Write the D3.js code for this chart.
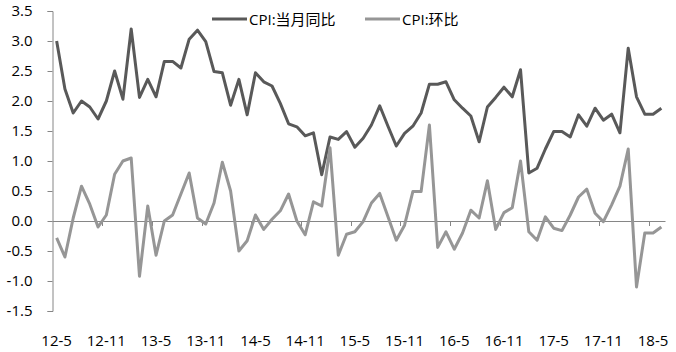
<!DOCTYPE html>
<html>
<head>
<meta charset="utf-8">
<script src="https://cdn.jsdelivr.net/npm/d3@7/dist/d3.min.js"></script>
<style>
  body { margin: 0; background: #fff; }
  text { font-family: "Open Sans", "Noto Sans CJK SC", sans-serif; fill: #000; }
</style>
</head>
<body>
<div id="chart"></div>
<script>
// months 2012-05 .. 2018-06
var months = [];
for (var y = 12; y <= 18; y++) {
    for (var m = 1; m <= 12; m++) {
        if ((y == 12 && m < 5) || (y == 18 && m > 6)) continue;
        months.push(y + "-" + m);
    }
}

var yoy = [3.0, 2.2, 1.8, 2.0, 1.9, 1.7, 2.0, 2.5,
    2.03, 3.2, 2.06, 2.36, 2.07, 2.66, 2.66, 2.55, 3.03, 3.18, 2.99, 2.49,
    2.47, 1.93, 2.36, 1.77, 2.47, 2.32, 2.25, 1.96, 1.62, 1.57, 1.42, 1.47,
    0.77, 1.4, 1.36, 1.49, 1.23, 1.38, 1.6, 1.92, 1.58, 1.25, 1.46, 1.58,
    1.8, 2.28, 2.28, 2.32, 2.02, 1.88, 1.75, 1.32, 1.9, 2.06, 2.23, 2.07,
    2.52, 0.8, 0.88, 1.2, 1.49, 1.49, 1.4, 1.77, 1.58, 1.88, 1.68, 1.78,
    1.47, 2.88, 2.07, 1.78, 1.78, 1.88];

var mom = [-0.28, -0.6, 0.05, 0.58, 0.28, -0.1, 0.1, 0.78,
    1.0, 1.05, -0.92, 0.25, -0.57, 0.0, 0.1, 0.45, 0.8, 0.05, -0.05, 0.3,
    0.98, 0.5, -0.5, -0.33, 0.1, -0.14, 0.03, 0.17, 0.45, 0.0, -0.23, 0.32,
    0.25, 1.22, -0.57, -0.22, -0.18, -0.01, 0.3, 0.46, 0.07, -0.32, -0.07, 0.49,
    0.49, 1.6, -0.44, -0.18, -0.47, -0.2, 0.18, 0.05, 0.67, -0.14, 0.14, 0.22,
    1.0, -0.18, -0.32, 0.07, -0.12, -0.16, 0.1, 0.4, 0.53, 0.13, -0.01, 0.27,
    0.58, 1.2, -1.1, -0.2, -0.2, -0.1];

var yTicks = [3.5, 3.0, 2.5, 2.0, 1.5, 1.0, 0.5, 0.0, -0.5, -1.0, -1.5];
var seriesNames = ["CPI:当月同比", "CPI:环比"];
var colors = ["#595959", "#969696"];

var w = 676;
var h = 352;

var svg = d3.select("#chart")
    .append("svg")
    .attr("width", w)
    .attr("height", h);

var xScale = d3.scaleBand()
    .domain(months)
    .range([52.5, 665.5]);

var yScale = d3.scaleLinear()
    .domain([-1.5, 3.5])
    .range([311, 11]);

function cx(d) { return xScale(d) + xScale.bandwidth() / 2; }

// y axis
var yAxis = d3.axisLeft(yScale)
    .tickValues(yTicks)
    .tickSize(5)
    .tickFormat(d3.format(".1f"));

var gy = svg.append("g")
    .attr("transform", "translate(52.5,0)")
    .call(yAxis);
gy.select(".domain").attr("stroke", "#868686").attr("d", "M-5,311.5H0.5V11.5H-5");
gy.selectAll(".tick line").attr("stroke", "#868686");
gy.selectAll(".tick text")
    .attr("x", -20)
    .style("font-size", "15px")
    .text(function(d) { return d3.format(".1f")(d).replace("−", "-"); });

// x axis along zero
var labelIdx = d3.range(0, months.length, 6);
svg.append("line")
    .attr("x1", 52.5)
    .attr("x2", 665.5)
    .attr("y1", Math.round(yScale(0)) + 0.5)
    .attr("y2", Math.round(yScale(0)) + 0.5)
    .attr("stroke", "#868686");

svg.selectAll(".xtick")
    .data(labelIdx.slice(1))
    .enter().append("line")
    .attr("x1", function(i) { return Math.round(xScale(months[i])) + 0.5; })
    .attr("x2", function(i) { return Math.round(xScale(months[i])) + 0.5; })
    .attr("y1", yScale(0))
    .attr("y2", yScale(0) + 5)
    .attr("stroke", "#868686");

svg.selectAll(".xlabel")
    .data(labelIdx)
    .enter().append("text")
    .attr("x", function(i) { return cx(months[i]); })
    .attr("y", 346)
    .attr("text-anchor", "middle")
    .style("font-size", "15px")
    .text(function(i) { return months[i]; });

// lines
var line = d3.line()
    .x(function(d, i) { return cx(months[i]); })
    .y(function(d) { return yScale(d); });

[yoy, mom].forEach(function(s, k) {
    svg.append("path")
        .datum(s)
        .attr("fill", "none")
        .attr("stroke", colors[k])
        .attr("stroke-width", 3)
        .attr("stroke-linejoin", "round")
        .attr("d", line);
});

// legend
var legX = [212, 365];
seriesNames.forEach(function(name, k) {
    svg.append("line")
        .attr("x1", legX[k])
        .attr("x2", legX[k] + 35)
        .attr("y1", 19)
        .attr("y2", 19)
        .attr("stroke", colors[k])
        .attr("stroke-width", 3);
    svg.append("text")
        .attr("x", legX[k] + 37)
        .attr("y", 25)
        .style("font-size", "15px")
        .text(name);
});
</script>
</body>
</html>
